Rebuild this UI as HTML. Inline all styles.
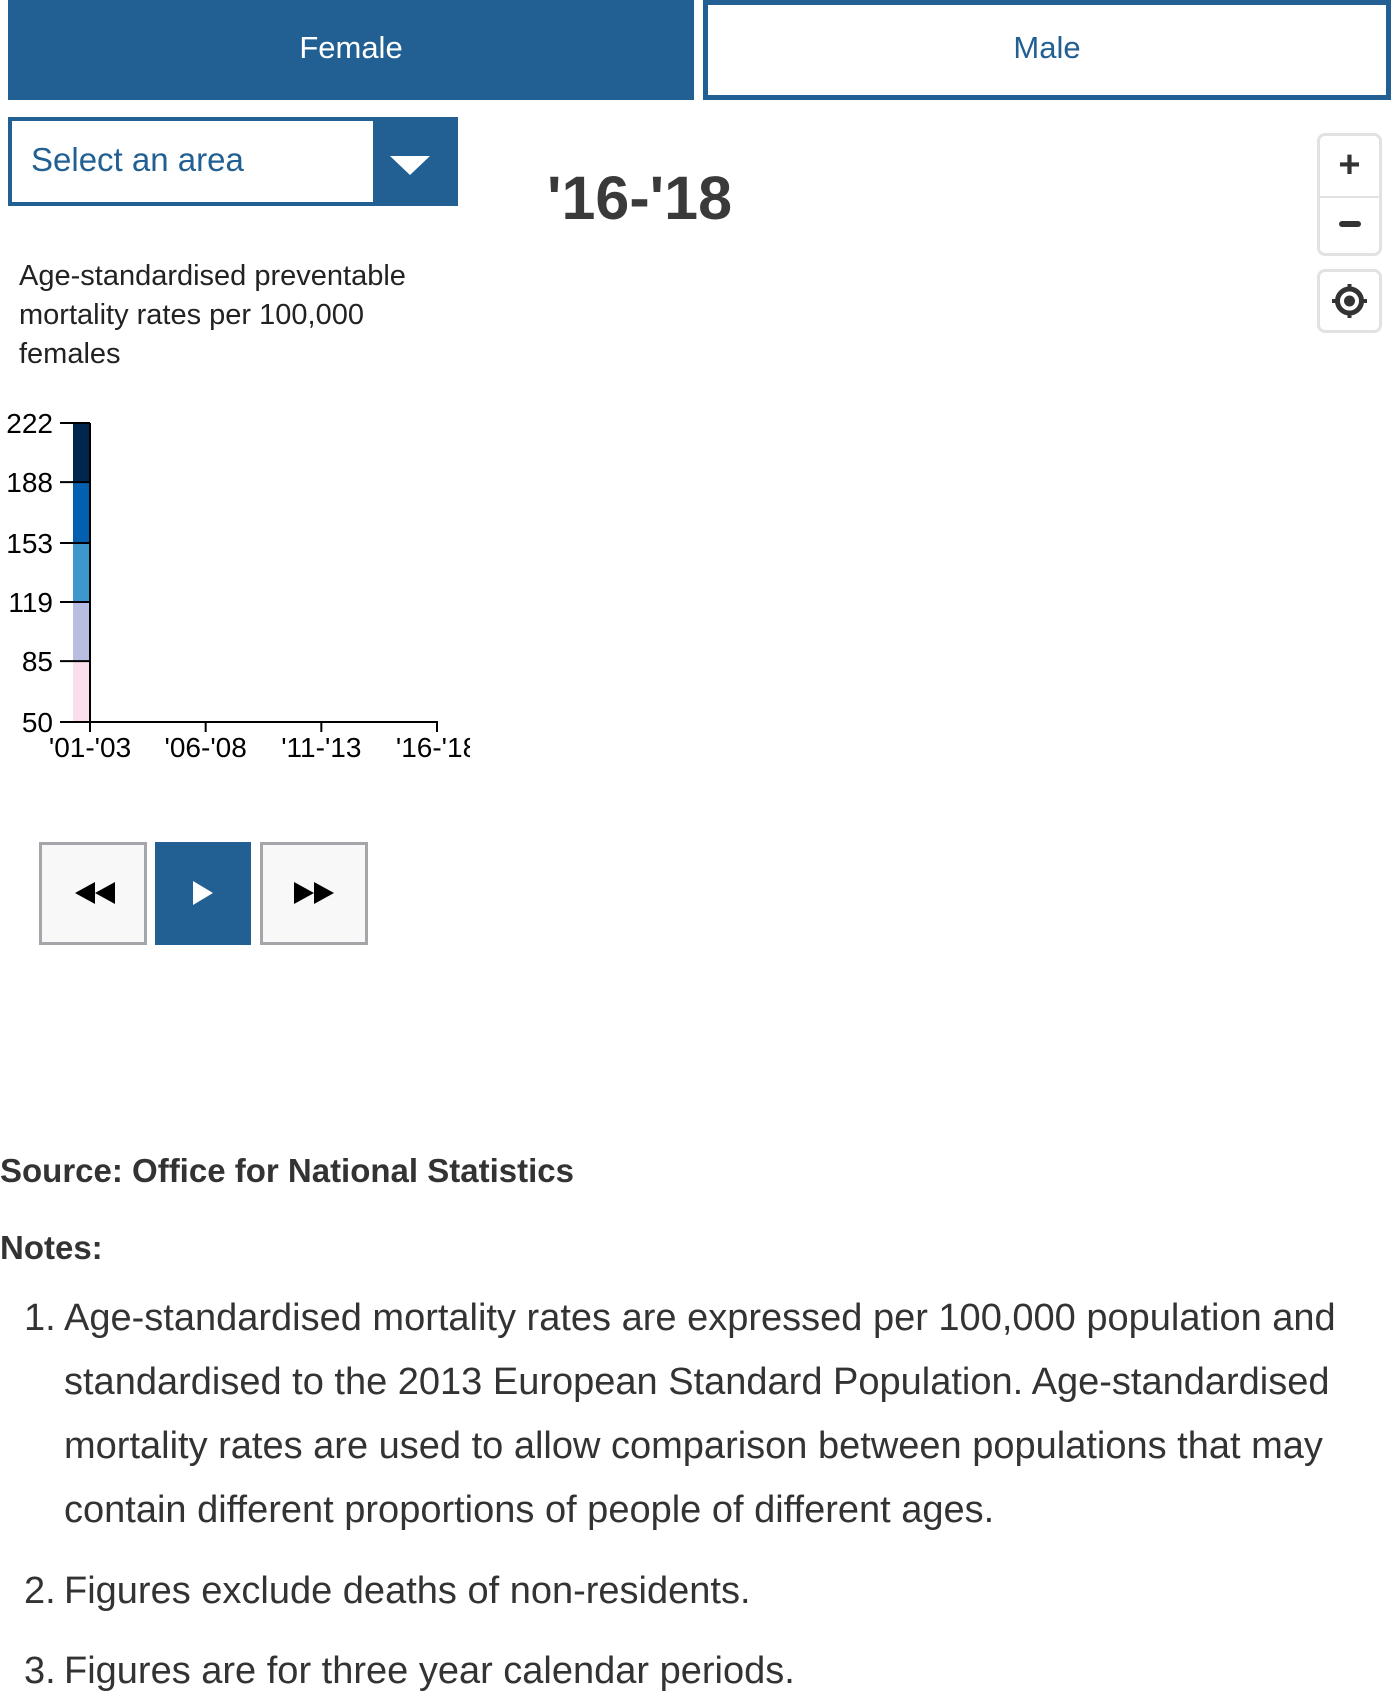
<!DOCTYPE html>
<html><head><meta charset="utf-8">
<style>
body{margin:0;width:1391px;height:1694px;background:#fff;font-family:"Liberation Sans",sans-serif;color:#333;position:relative;overflow:hidden}
.abs{position:absolute}
.tab{position:absolute;top:0;height:100px;box-sizing:border-box;display:flex;align-items:center;justify-content:center;font-size:31px}
.pb{position:absolute;top:842px;height:103px;box-sizing:border-box}
.note{position:absolute;left:0;font-size:38px;color:#333;white-space:nowrap}
</style></head><body>
<div class="tab" style="left:8px;width:686px;background:#226093;color:#fff;padding-bottom:4px">Female</div>
<div class="tab" style="left:703px;width:688px;border:5px solid #226093;background:#fff;color:#226093;padding-bottom:4px">Male</div>

<div class="abs" style="left:8px;top:117px;width:450px;height:89px;background:#226093">
  <div class="abs" style="left:4px;top:4px;width:361px;height:81px;background:#fff"></div>
  <div class="abs" style="left:23px;top:24px;font-size:33px;color:#226093">Select an area</div>
  <div class="abs" style="left:382px;top:39px;width:0;height:0;border-left:20px solid transparent;border-right:20px solid transparent;border-top:19px solid #fff"></div>
</div>

<div class="abs" style="left:547px;top:163px;font-size:61px;font-weight:bold;color:#3a3a3a">'16-'18</div>

<div class="abs" style="left:1317px;top:133px;width:65px;height:123px;box-sizing:border-box;border:3px solid #e2e2e2;border-radius:8px;background:#fff">
  <div class="abs" style="left:0;top:0;width:59px;height:60px;border-bottom:2px solid #e2e2e2;font-size:38px;font-weight:bold;text-align:center;line-height:58px;color:#333">+</div>
  <div class="abs" style="left:19px;top:85px;width:22px;height:6px;border-radius:3px;background:#333"></div>
</div>
<div class="abs" style="left:1317px;top:269px;width:65px;height:64px;box-sizing:border-box;border:3px solid #e2e2e2;border-radius:8px;background:#fff">
  <svg width="59" height="58" style="position:absolute;left:0;top:0"><circle cx="29.5" cy="29" r="12" fill="none" stroke="#333" stroke-width="5"/><circle cx="29.5" cy="29" r="5.5" fill="#333"/><rect x="27.5" y="12" width="4" height="5" fill="#333"/><rect x="27.5" y="41" width="4" height="5" fill="#333"/><rect x="12" y="27" width="5" height="4" fill="#333"/><rect x="42" y="27" width="5" height="4" fill="#333"/></svg>
</div>

<div class="abs" style="left:19px;top:257px;font-size:29px;line-height:39px;color:#222">Age-standardised preventable<br>mortality rates per 100,000<br>females</div>

<svg id="chart" class="abs" style="left:0;top:400px" width="470" height="380"></svg>

<div class="pb" style="left:39px;width:108px;background:#f8f8f8;border:3px solid #a6a6aa">
  <svg width="102" height="97"><polygon points="33,48 53,37 53,59" fill="#000"/><polygon points="53,48 73,37 73,59" fill="#000"/></svg></div>
<div class="pb" style="left:155px;width:96px;background:#226093">
  <svg width="96" height="103"><polygon points="38,39 58,51 38,63" fill="#fff"/></svg></div>
<div class="pb" style="left:260px;width:108px;background:#f8f8f8;border:3px solid #a6a6aa">
  <svg width="102" height="97"><polygon points="31,37 51,48 31,59" fill="#000"/><polygon points="51,37 71,48 51,59" fill="#000"/></svg></div>

<div class="abs" style="left:0;top:1152px;font-size:33px;font-weight:bold">Source: Office for National Statistics</div>
<div class="abs" style="left:0;top:1229px;font-size:33px;font-weight:bold">Notes:</div>
<div>
<div class="note" style="top:1297px"><span style="position:absolute;left:24px">1.</span><span style="position:absolute;left:64px">Age-standardised mortality rates are expressed per 100,000 population and</span></div>
<div class="note" style="top:1361px"><span style="position:absolute;left:64px">standardised to the 2013 European Standard Population. Age-standardised</span></div>
<div class="note" style="top:1425px"><span style="position:absolute;left:64px">mortality rates are used to allow comparison between populations that may</span></div>
<div class="note" style="top:1489px"><span style="position:absolute;left:64px">contain different proportions of people of different ages.</span></div>
<div class="note" style="top:1570px"><span style="position:absolute;left:24px">2.</span><span style="position:absolute;left:64px">Figures exclude deaths of non-residents.</span></div>
<div class="note" style="top:1650px"><span style="position:absolute;left:24px">3.</span><span style="position:absolute;left:64px">Figures are for three year calendar periods.</span></div>
</div>

<script>
const breaks = [50, 85, 119, 153, 188, 222];
const binColors = ['#fbdeec', '#babde2', '#3d97cd', '#0360b0', '#00264f'];
const periods = ["'01-'03", "'06-'08", "'11-'13", "'16-'18"];
const NS = 'http://www.w3.org/2000/svg';
const svg = document.getElementById('chart');
const y0 = 322, y1 = 23, x0 = 90, x1 = 437;
const yScale = v => y0 - (v - breaks[0]) / (breaks[breaks.length-1] - breaks[0]) * (y0 - y1);
const xScale = i => x0 + i * (x1 - x0) / (periods.length - 1);
function mk(tag, attrs){const e=document.createElementNS(NS,tag);for(const k in attrs)e.setAttribute(k,attrs[k]);svg.appendChild(e);return e;}
binColors.forEach((c, i) => {
  const r = mk('rect', {x: 73, y: yScale(breaks[i+1]), width: 17, height: yScale(breaks[i]) - yScale(breaks[i+1]), fill: c});
  
  
});
const ya = mk('line', {x1: x0, y1: y1, x2: x0, y2: y0, stroke: '#000', 'stroke-width': 2});


const xa = mk('line', {x1: x0 - 30, y1: y0, x2: x1 + 1, y2: y0, stroke: '#000', 'stroke-width': 2});


breaks.forEach(b => {
  const y = yScale(b);
  mk('line', {x1: x0 - 30, y1: y, x2: x0, y2: y, stroke: '#000', 'stroke-width': 2});
  const t = mk('text', {x: 53, y: y + 10, 'text-anchor': 'end', 'font-size': 28, fill: '#000', 'font-family': 'Liberation Sans, sans-serif'});
  t.textContent = b;
  
  
});
periods.forEach((p, i) => {
  const x = xScale(i);
  mk('line', {x1: x, y1: y0, x2: x, y2: y0 + 10, stroke: '#000', 'stroke-width': 2});
  const t = mk('text', {x: x, y: y0 + 35, 'text-anchor': 'middle', 'font-size': 28, fill: '#000', 'font-family': 'Liberation Sans, sans-serif'});
  t.textContent = p;
  
  
});
</script>
</body></html>
